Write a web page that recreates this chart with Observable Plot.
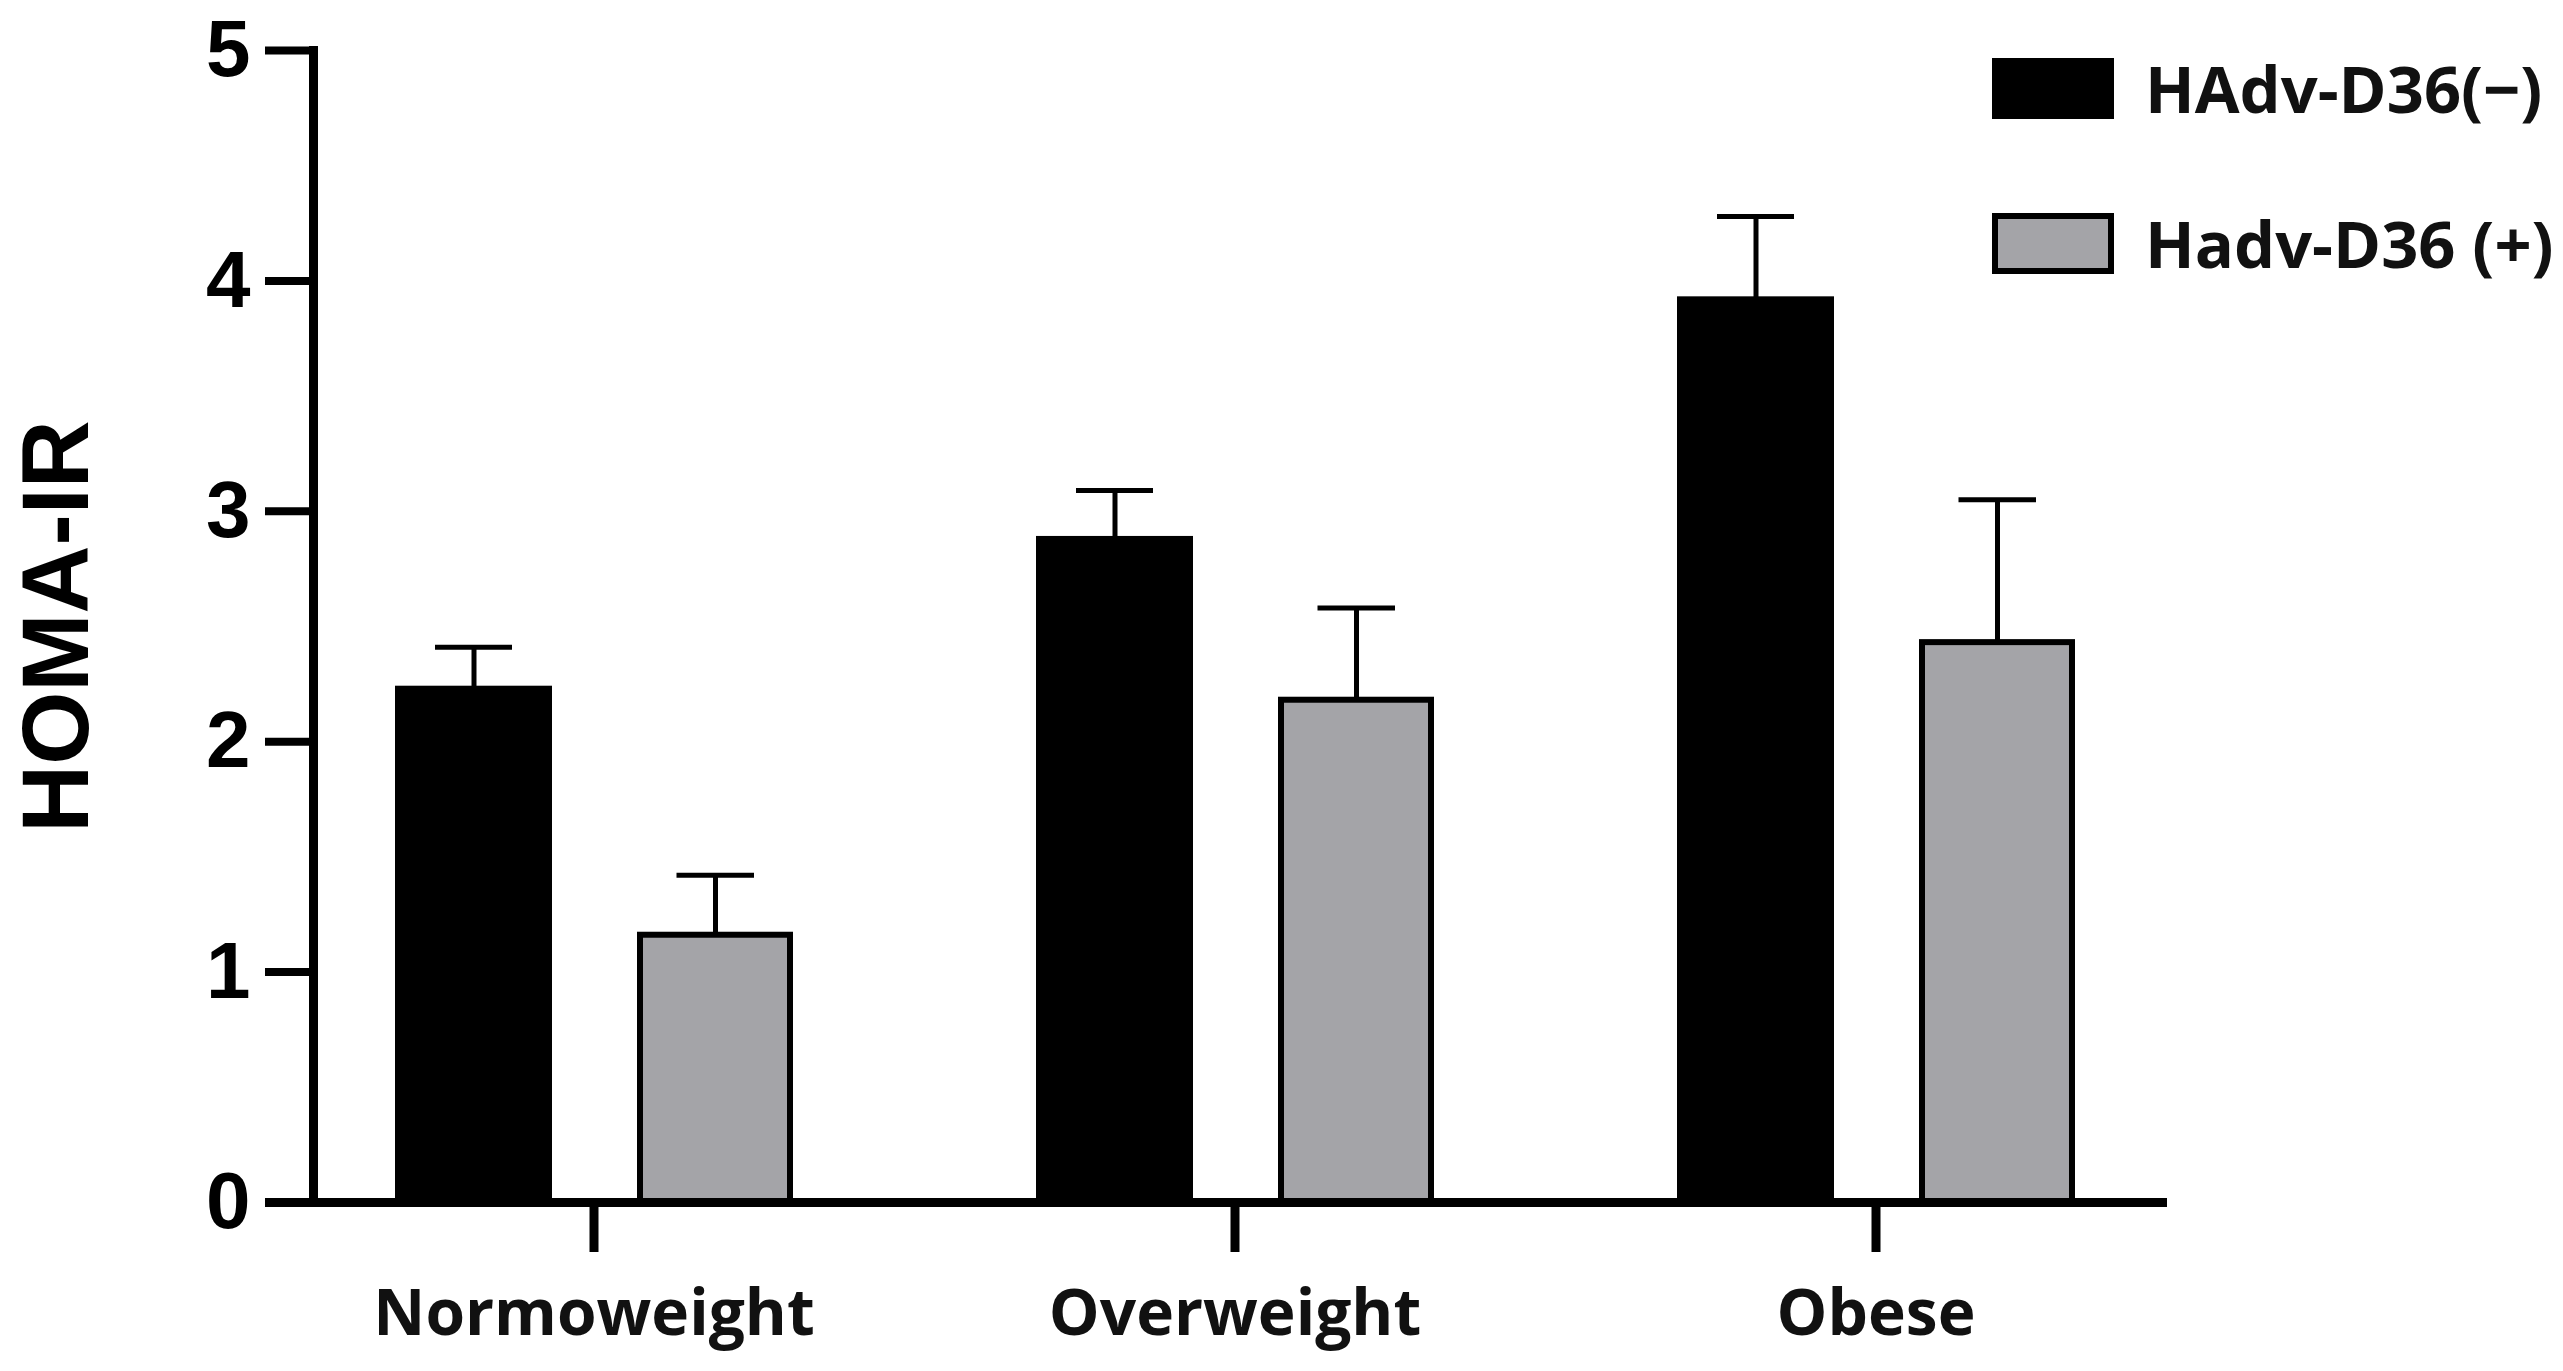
<!DOCTYPE html>
<html>
<head>
<meta charset="utf-8">
<script src="https://cdn.jsdelivr.net/npm/d3@7"></script>
<script src="https://cdn.jsdelivr.net/npm/@observablehq/plot@0.6"></script>
<style>
  html, body { margin: 0; padding: 0; background: #fff; }
  #wrap { position: relative; width: 2563px; height: 1371px; }
  #legend { position: absolute; left: 1992px; top: 58px; font-family: "Open Sans", sans-serif; font-weight: 700; font-size: 65px; color: #111; }
  .row { display: flex; align-items: center; height: 61px; margin-bottom: 94px; }
  .sw { width: 122px; height: 61px; box-sizing: border-box; margin-right: 31px; }
  .lab { white-space: nowrap; line-height: 1; }
</style>
</head>
<body>
<div id="wrap">
  <div id="chart"></div>
  <div id="legend"></div>
</div>
<script>
const categories = ["Normoweight", "Overweight", "Obese"];
const groups = ["HAdv-D36(\u2212)", "Hadv-D36 (+)"];
const groupColors = ["#000000", "#a4a4a8"];
const negMean = [2.23, 2.88, 3.92];
const negUpper = [2.41, 3.09, 4.28];
const posMean = [1.16, 2.18, 2.43];
const posUpper = [1.42, 2.58, 3.05];
const yTicks = [0, 1, 2, 3, 4, 5];
const yLabel = "HOMA-IR";

const neg = categories.map((c, i) => ({category: c, mean: negMean[i], upper: negUpper[i]}));
const pos = categories.map((c, i) => ({category: c, mean: posMean[i], upper: posUpper[i]}));

const chart = Plot.plot({
  width: 2563,
  height: 1371,
  marginTop: 50,
  marginBottom: 169,
  marginLeft: 313,
  marginRight: 396,
  style: {background: "white", color: "black", overflow: "visible"},
  x: {type: "band", domain: categories, range: [272, 2197], padding: 0, label: null},
  y: {domain: [0, 5], label: null},
  marks: [
    Plot.barY(neg, {x: "category", y: "mean", fill: groupColors[0], stroke: "black", strokeWidth: 5, insetLeft: 124.5, insetRight: 364.5}),
    Plot.barY(pos, {x: "category", y: "mean", fill: groupColors[1], stroke: "black", strokeWidth: 6, insetLeft: 367, insetRight: 124}),
    Plot.ruleX(neg, {x: "category", y1: "mean", y2: "upper", dx: -120, stroke: "black", strokeWidth: 5}),
    Plot.ruleX(pos, {x: "category", y1: "mean", y2: "upper", dx: 121.5, stroke: "black", strokeWidth: 5}),
    Plot.tickY(neg, {x: "category", y: "upper", stroke: "black", strokeWidth: 5, insetLeft: 162, insetRight: 402}),
    Plot.tickY(pos, {x: "category", y: "upper", stroke: "black", strokeWidth: 5, insetLeft: 403.5, insetRight: 160}),
    Plot.ruleY([0], {stroke: "black", strokeWidth: 9, insetLeft: -48}),
    Plot.frame({anchor: "left", stroke: "black", strokeWidth: 9}),
    Plot.axisY({ticks: yTicks, tickFormat: d3.format("d"), tickSize: 48, tickPadding: 15, strokeWidth: 8, fontSize: 80, fontWeight: "bold", fontFamily: "Liberation Sans, Arial, sans-serif", label: null}),
    Plot.axisX({tickSize: 50, tickPadding: 37, strokeWidth: 9, fontSize: 64, fontWeight: 700, fontFamily: "Open Sans, sans-serif", fill: "#111", label: null}),
    Plot.text([yLabel], {frameAnchor: "left", dx: -256, rotate: -90, fontSize: 94, fontWeight: "bold", fontFamily: "Liberation Sans, Arial, sans-serif", textAnchor: "middle", lineAnchor: "middle", fill: "black"})
  ]
});
document.getElementById("chart").appendChild(chart);

const legend = document.getElementById("legend");
groups.forEach((g, i) => {
  const row = document.createElement("div");
  row.className = "row";
  const sw = document.createElement("div");
  sw.className = "sw";
  sw.style.background = groupColors[i];
  sw.style.border = i === 0 ? "none" : "6px solid black";
  const lab = document.createElement("span");
  lab.className = "lab";
  lab.textContent = g;
  row.appendChild(sw);
  row.appendChild(lab);
  legend.appendChild(row);
});
</script>
</body>
</html>
